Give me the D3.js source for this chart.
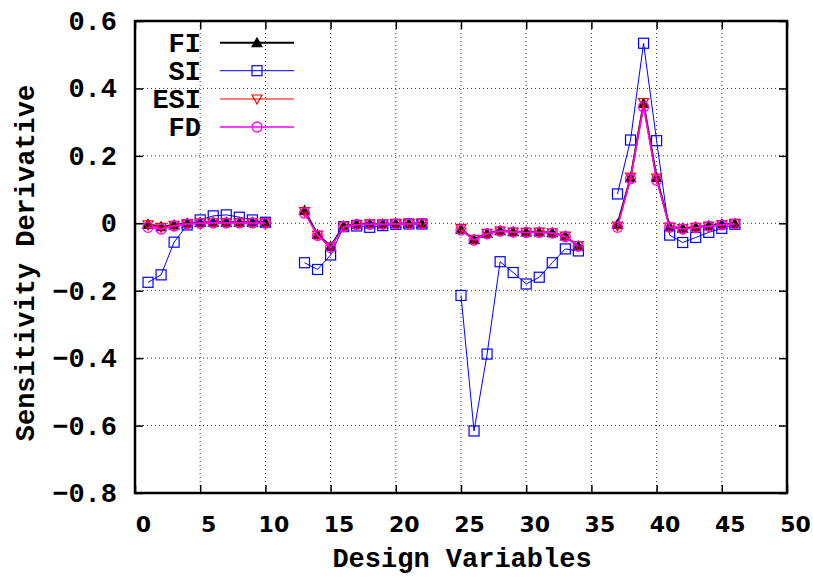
<!DOCTYPE html>
<html lang="en">
<head>
<meta charset="UTF-8">
<title>Sensitivity Derivative</title>
<script src="https://d3js.org/d3.v7.min.js"></script>
<style>
  body { margin: 0; background: #fff; }
  svg { display: block; }
  .mono { font-family: "Liberation Mono", "Courier New", monospace; font-weight: bold; }
  .sans { font-family: "DejaVu Sans", sans-serif; font-weight: bold; }
</style>
</head>
<body>
<div id="chart"></div>
<script>
// design variable index (gaps between the four groups)
const designVars = [1, 2, 3, 4, 5, 6, 7, 8, 9, 10,
                    13, 14, 15, 16, 17, 18, 19, 20, 21, 22,
                    25, 26, 27, 28, 29, 30, 31, 32, 33, 34,
                    37, 38, 39, 40, 41, 42, 43, 44, 45, 46];

const fiVals = [-0.003, -0.010, -0.005, 0.000, 0.002, 0.003, 0.003, 0.003, 0.003, 0.002,
                0.038, -0.033, -0.068, -0.008, -0.003, -0.002, -0.002, -0.001, -0.001, -0.001,
                -0.018, -0.048, -0.030, -0.022, -0.025, -0.026, -0.026, -0.028, -0.038, -0.068,
                -0.003, 0.135, 0.355, 0.136, -0.010, -0.015, -0.011, -0.007, -0.003, -0.001];

const siVals = [-0.175, -0.153, -0.056, -0.005, 0.010, 0.022, 0.025, 0.018, 0.010, 0.003,
                -0.117, -0.137, -0.094, -0.010, -0.008, -0.012, -0.007, -0.003, -0.002, -0.002,
                -0.214, -0.616, -0.388, -0.114, -0.146, -0.180, -0.160, -0.117, -0.076, -0.082,
                0.087, 0.247, 0.534, 0.245, -0.035, -0.057, -0.042, -0.027, -0.015, -0.003];

const esiVals = [-0.005, -0.012, -0.006, -0.001, 0.001, 0.002, 0.002, 0.002, 0.002, 0.001,
                 0.035, -0.035, -0.070, -0.009, -0.003, -0.002, -0.002, -0.001, -0.001, -0.001,
                 -0.015, -0.048, -0.030, -0.023, -0.026, -0.027, -0.026, -0.028, -0.038, -0.066,
                 -0.008, 0.137, 0.358, 0.134, -0.011, -0.016, -0.012, -0.008, -0.004, -0.001];

const fdVals = [-0.012, -0.017, -0.008, -0.002, 0.000, 0.001, 0.001, 0.001, 0.001, 0.000,
                0.030, -0.036, -0.072, -0.010, -0.004, -0.003, -0.003, -0.002, -0.002, -0.002,
                -0.020, -0.050, -0.031, -0.023, -0.026, -0.027, -0.027, -0.029, -0.040, -0.068,
                -0.012, 0.132, 0.345, 0.128, -0.012, -0.017, -0.013, -0.009, -0.005, -0.002];

const xTicks = [0, 5, 10, 15, 20, 25, 30, 35, 40, 45, 50];
const yTicks = [-0.8, -0.6, -0.4, -0.2, 0, 0.2, 0.4, 0.6];

const series = [
  {name: "FI",  vals: fiVals,  color: "#000000", width: 2,   marker: "triUp"},
  {name: "SI",  vals: siVals,  color: "#0000ff", width: 1,   marker: "square"},
  {name: "ESI", vals: esiVals, color: "#ff0000", width: 1,   marker: "triDown"},
  {name: "FD",  vals: fdVals,  color: "#ff00ff", width: 1.5, marker: "circle"}
];

const W = 813, H = 577;
const margin = {top: 21, right: 26, bottom: 84, left: 135};
const w = W - margin.left - margin.right,
      h = H - margin.top - margin.bottom;

const svg = d3.select("#chart").append("svg")
  .attr("width", W).attr("height", H);

const g = svg.append("g").attr("transform", `translate(${margin.left},${margin.top})`);

const x = d3.scaleLinear().domain([0, 50]).range([0, w]);
const y = d3.scaleLinear().domain([-0.8, 0.6]).range([h, 0]);

// dotted grid
g.append("g").selectAll("line.gx")
  .data(xTicks.slice(1, -1)).enter().append("line")
  .attr("x1", d => x(d)).attr("x2", d => x(d))
  .attr("y1", 0).attr("y2", h)
  .attr("stroke", "#000").attr("stroke-width", 1)
  .attr("stroke-dasharray", "1,3").attr("opacity", 0.8);
g.append("g").selectAll("line.gy")
  .data(yTicks.slice(1, -1)).enter().append("line")
  .attr("x1", 0).attr("x2", w)
  .attr("y1", d => y(d)).attr("y2", d => y(d))
  .attr("stroke", "#000").attr("stroke-width", 1)
  .attr("stroke-dasharray", "1,3").attr("opacity", 0.8);

// axes: ticks inside, mirrored
const tickLen = 8;
const xb = g.append("g").attr("transform", `translate(0,${h})`)
  .call(d3.axisBottom(x).tickValues(xTicks).tickSize(-tickLen).tickFormat(""));
const xt = g.append("g")
  .call(d3.axisTop(x).tickValues(xTicks).tickSize(-tickLen).tickFormat(""));
const yl = g.append("g")
  .call(d3.axisLeft(y).tickValues(yTicks).tickSize(-tickLen).tickFormat(""));
const yr = g.append("g").attr("transform", `translate(${w},0)`)
  .call(d3.axisRight(y).tickValues(yTicks).tickSize(-tickLen).tickFormat(""));
[xb, xt, yl, yr].forEach(a => {
  a.select(".domain").remove();
  a.selectAll(".tick line").attr("stroke", "#000").attr("stroke-width", 1.5);
});

// tick labels
g.append("g").selectAll("text")
  .data(xTicks).enter().append("text")
  .attr("class", "sans")
  .attr("x", d => x(d) + 8.5).attr("y", h + 39)
  .attr("text-anchor", "middle")
  .attr("font-size", 22)
  .text(d => d);

g.append("g").selectAll("text")
  .data(yTicks).enter().append("text")
  .attr("class", "mono")
  .attr("x", -18).attr("y", d => y(d) + 9)
  .attr("text-anchor", "end")
  .attr("font-size", 27)
  .text(d => d === 0 ? "0" : d3.format(".1f")(d).replace("-", "\u2212"));

// axis titles
svg.append("text").attr("class", "mono")
  .attr("x", margin.left + w / 2 + 1).attr("y", 567)
  .attr("text-anchor", "middle").attr("font-size", 27)
  .text("Design Variables");
svg.append("text").attr("class", "mono")
  .attr("transform", `translate(34,${margin.top + h / 2 + 6}) rotate(-90)`)
  .attr("text-anchor", "middle").attr("font-size", 27)
  .text("Sensitivity Derivative");

// markers
function drawMarker(sel, type, color) {
  if (type === "triUp") {
    sel.append("path").attr("d", "M0,-6L6,4.5L-6,4.5Z").attr("fill", color);
  } else if (type === "square") {
    sel.append("rect").attr("x", -5).attr("y", -5).attr("width", 10).attr("height", 10)
      .attr("fill", "none").attr("stroke", color).attr("stroke-width", 1.2);
  } else if (type === "triDown") {
    sel.append("path").attr("d", "M-5,-4L5,-4L0,5Z")
      .attr("fill", "none").attr("stroke", color).attr("stroke-width", 1.2);
  } else {
    sel.append("circle").attr("r", 5)
      .attr("fill", "none").attr("stroke", color).attr("stroke-width", 1.3);
  }
}

const line = d3.line()
  .x(d => x(d.x)).y(d => y(d.v));

series.forEach(s => {
  const pts = designVars.map((d, i) => ({x: d, v: s.vals[i]}));
  // split into groups where the design variable index jumps
  const groups = [];
  pts.forEach((p, i) => {
    if (i === 0 || p.x - pts[i - 1].x > 1) groups.push([]);
    groups[groups.length - 1].push(p);
  });
  g.append("g").selectAll("path")
    .data(groups).enter().append("path")
    .attr("d", line)
    .attr("fill", "none").attr("stroke", s.color).attr("stroke-width", s.width);
  const m = g.append("g").selectAll("g")
    .data(pts).enter().append("g")
    .attr("transform", d => `translate(${x(d.x)},${y(d.v)})`);
  drawMarker(m, s.marker, s.color);
});

// frame
g.append("rect").attr("width", w).attr("height", h)
  .attr("fill", "none").attr("stroke", "#000").attr("stroke-width", 2.5);

// legend
const legend = svg.append("g");
const legRows = [42.7, 70.7, 99, 127];
series.forEach((s, i) => {
  const row = legend.append("g").attr("transform", `translate(0,${legRows[i]})`);
  row.append("text").attr("class", "mono")
    .attr("x", 201).attr("y", 9).attr("text-anchor", "end")
    .attr("font-size", 27).text(s.name);
  row.append("line").attr("x1", 220).attr("x2", 294)
    .attr("stroke", s.color).attr("stroke-width", s.width);
  const mk = row.append("g").attr("transform", "translate(257,0)");
  drawMarker(mk, s.marker, s.color);
});
</script>
</body>
</html>
